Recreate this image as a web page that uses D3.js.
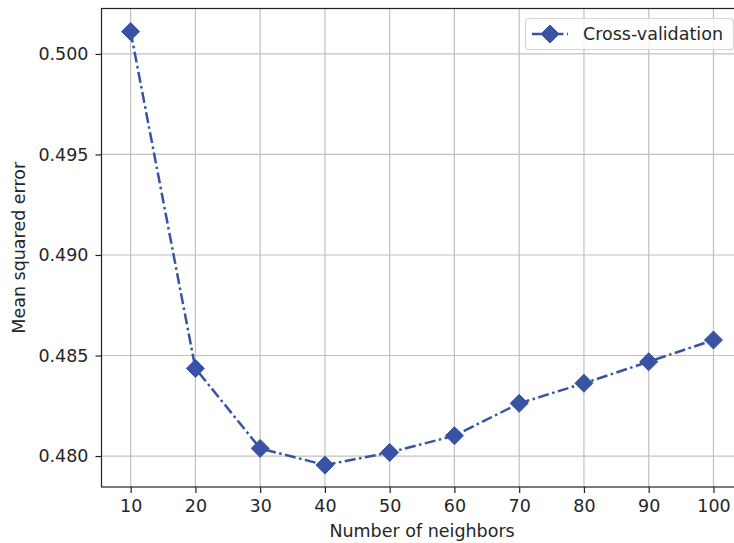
<!DOCTYPE html>
<html>
<head>
<meta charset="utf-8">
<script src="https://cdn.jsdelivr.net/npm/d3@7"></script>
<style>
  html, body { margin: 0; padding: 0; background: #fff; }
  svg { display: block; font-family: "DejaVu Sans", sans-serif; }
</style>
</head>
<body>
<svg id="chart" width="734" height="543"></svg>
<script>
const neighbors = [10, 20, 30, 40, 50, 60, 70, 80, 90, 100];
const mse = [0.50111, 0.48436, 0.48038, 0.47955, 0.48018, 0.48101, 0.48262, 0.48362, 0.48469, 0.48577];
const xTicks = [10, 20, 30, 40, 50, 60, 70, 80, 90, 100];
const yTicks = [0.480, 0.485, 0.490, 0.495, 0.500];
const seriesName = "Cross-validation";
const xLabel = "Number of neighbors";
const yLabel = "Mean squared error";

(function () {
const color = "#3853a4";
const fs = "17.5px";
const svg = d3.select("#chart");
const mL = 101.5, mR = 742.6, mT = 8.5, mB = 487;

const x = d3.scaleLinear().domain([5.5, 104.5]).range([mL, mR]);
const y = d3.scaleLinear().domain([0.47846, 0.50226]).range([mB, mT]);

// grid
const g = svg.append("g");
g.selectAll(".vg").data(xTicks).enter().append("line")
  .attr("x1", d => x(d)).attr("x2", d => x(d)).attr("y1", mT).attr("y2", mB)
  .attr("stroke", "#c0c0c0").attr("stroke-width", 1.2);
g.selectAll(".hg").data(yTicks).enter().append("line")
  .attr("y1", d => y(d)).attr("y2", d => y(d)).attr("x1", mL).attr("x2", mR)
  .attr("stroke", "#c0c0c0").attr("stroke-width", 1.2);

// axes
const xAxis = d3.axisBottom(x).tickValues(xTicks).tickSize(6).tickPadding(7).tickFormat(d3.format("d"));
const yAxis = d3.axisLeft(y).tickValues(yTicks).tickSize(6).tickPadding(7).tickFormat(d3.format(".3f"));
const gx = svg.append("g").attr("transform", `translate(0,${mB})`).call(xAxis);
const gy = svg.append("g").attr("transform", `translate(${mL},0)`).call(yAxis);
[gx, gy].forEach(a => {
  a.select(".domain").remove();
  a.selectAll(".tick line").attr("stroke", "#222").attr("stroke-width", 1.2);
  a.selectAll(".tick text").attr("fill", "#262626").style("font-size", fs).style("font-family", "DejaVu Sans");
});

// frame
svg.append("rect").attr("x", mL).attr("y", mT).attr("width", mR - mL).attr("height", mB - mT)
  .attr("fill", "none").attr("stroke", "#222").attr("stroke-width", 1.2);

// line
const line = d3.line().x((d, i) => x(neighbors[i])).y(d => y(d));
svg.append("path").datum(mse).attr("d", line)
  .attr("fill", "none").attr("stroke", color).attr("stroke-width", 2.5)
  .attr("stroke-dasharray", "11,3.5,2.5,3.5");

const diamond = (cx, cy, r) => `M${cx},${cy - r}L${cx + r},${cy}L${cx},${cy + r}L${cx - r},${cy}Z`;
svg.selectAll(".mk").data(mse).enter().append("path")
  .attr("d", (d, i) => diamond(x(neighbors[i]), y(d), 9))
  .attr("fill", color).attr("stroke", color).attr("stroke-width", 1);

// labels
svg.append("text").attr("x", (x(10) + x(100)) / 2).attr("y", 537)
  .attr("text-anchor", "middle").attr("fill", "#262626").style("font-size", fs)
  .text(xLabel);
svg.append("text").attr("transform", `translate(25,${(mT + mB) / 2}) rotate(-90)`)
  .attr("text-anchor", "middle").attr("fill", "#262626").style("font-size", fs)
  .text(yLabel);

// legend
const lg = svg.append("g");
lg.append("rect").attr("x", 525.5).attr("y", 18.5).attr("width", 208).attr("height", 31).attr("rx", 3.5)
  .attr("fill", "#fff").attr("fill-opacity", 0.8).attr("stroke", "#d6d6d6").attr("stroke-width", 1.2);
lg.append("line").attr("x1", 532).attr("x2", 568).attr("y1", 34).attr("y2", 34)
  .attr("stroke", color).attr("stroke-width", 2.5).attr("stroke-dasharray", "11,3.5,2.5,3.5");
lg.append("path").attr("d", diamond(550, 34, 9)).attr("fill", color).attr("stroke", color);
lg.append("text").attr("x", 583).attr("y", 40).attr("fill", "#262626").style("font-size", fs).text(seriesName);
})();
</script>
</body>
</html>
